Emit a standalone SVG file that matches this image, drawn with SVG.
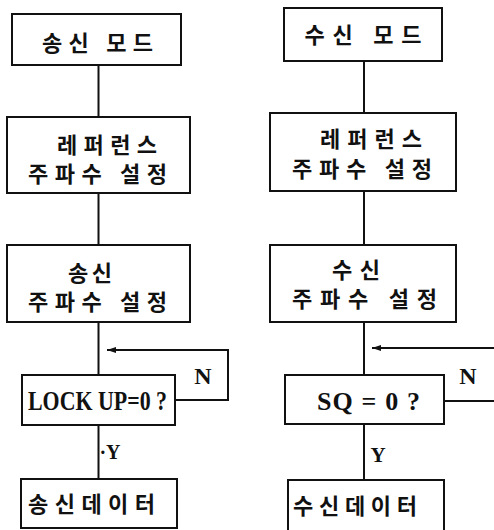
<svg xmlns="http://www.w3.org/2000/svg" width="494" height="530" viewBox="0 0 494 530">
<style>
.box{fill:#fff;stroke:#111;stroke-width:2}
.ln{fill:none;stroke:#111;stroke-width:2}
.ko{font-family:"Noto Sans CJK KR","Noto Sans",sans-serif;font-size:22px;font-weight:bold;fill:#111;text-anchor:middle;dominant-baseline:central}
.en{font-family:"Liberation Serif",serif;font-weight:bold;fill:#111;text-anchor:middle}
</style>
<defs>
<marker id="ah" markerWidth="10" markerHeight="8" refX="9" refY="4" orient="auto" markerUnits="userSpaceOnUse">
<path d="M0,1 L9,4 L0,7 Z" fill="#111"/>
</marker>
</defs>
<rect width="494" height="530" fill="#fff"/>
<g id="connectors">
<path class="ln" d="M98.5,65 V117 M98.5,193 V245 M98.5,322 V375 M98.5,425 V479"/>
<path class="ln" d="M175,400 H228 V350 H107" marker-end="url(#ah)"/>
<path class="ln" d="M364,61 V113 M364,191 V245 M364,322 V375 M364,424 V480"/>
<path class="ln" d="M494,348 H372" marker-end="url(#ah)"/>
<path class="ln" d="M444,401 H494"/>
<text class="en" x="203" y="384" font-size="24">N</text>
<text class="en" x="468" y="384" font-size="24">N</text>
<text class="en" x="110" y="459" font-size="20">·Y</text>
<text class="en" x="378" y="462" font-size="21">Y</text>
</g>
<g id="tx-mode">
<rect class="box" x="12" y="14" width="169" height="51"/>
<text class="ko" x="97.5" y="41" textLength="111" lengthAdjust="spacing">송신 모드</text>
</g>
<g id="tx-ref">
<rect class="box" x="7" y="117" width="183" height="76"/>
<text class="ko" x="107" y="143" textLength="100" lengthAdjust="spacing">레퍼런스</text>
<text class="ko" x="97.5" y="172" textLength="139" lengthAdjust="spacing">주파수 설정</text>
</g>
<g id="tx-freq">
<rect class="box" x="7" y="245" width="183" height="77"/>
<text class="ko" x="90" y="271" textLength="44" lengthAdjust="spacing">송신</text>
<text class="ko" x="97.5" y="300" textLength="139" lengthAdjust="spacing">주파수 설정</text>
</g>
<g id="tx-lock">
<rect class="box" x="22" y="375" width="153" height="50"/>
<text class="en" x="97.5" y="410" font-size="27" textLength="139" lengthAdjust="spacingAndGlyphs">LOCK UP=0 ?</text>
</g>
<g id="tx-data">
<rect class="box" x="21" y="479" width="156" height="49"/>
<text class="ko" x="91.5" y="502" textLength="127" lengthAdjust="spacing">송신데이터</text>
</g>
<g id="rx-mode">
<rect class="box" x="284" y="8" width="158" height="53"/>
<text class="ko" x="363" y="33" textLength="117" lengthAdjust="spacing">수신 모드</text>
</g>
<g id="rx-ref">
<rect class="box" x="270" y="113" width="186" height="78"/>
<text class="ko" x="371" y="137" textLength="102" lengthAdjust="spacing">레퍼런스</text>
<text class="ko" x="362" y="167" textLength="140" lengthAdjust="spacing">주파수 설정</text>
</g>
<g id="rx-freq">
<rect class="box" x="270" y="245" width="186" height="77"/>
<text class="ko" x="356" y="268" textLength="48" lengthAdjust="spacing">수신</text>
<text class="ko" x="364.5" y="297" textLength="145" lengthAdjust="spacing">주파수 설정</text>
</g>
<g id="rx-sq">
<rect class="box" x="285" y="375" width="159" height="49"/>
<text class="en" x="368.5" y="410" font-size="26" textLength="103" lengthAdjust="spacing">SQ = 0 ?</text>
</g>
<g id="rx-data">
<rect class="box" x="288" y="480" width="156" height="52"/>
<text class="ko" x="355" y="504" textLength="124" lengthAdjust="spacing">수신데이터</text>
</g>
</svg>
